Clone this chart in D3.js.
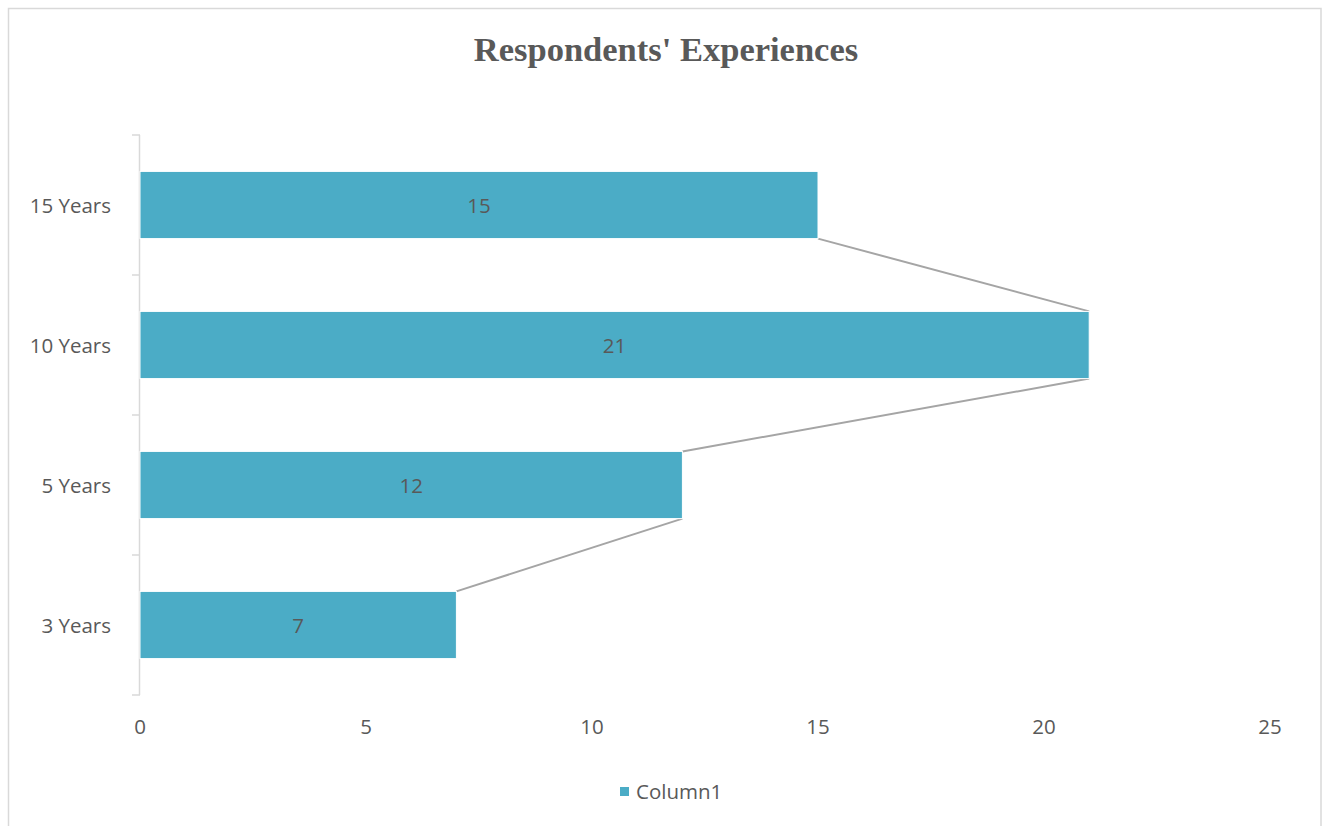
<!DOCTYPE html>
<html><head><meta charset="utf-8">
<script src="https://cdn.jsdelivr.net/npm/d3@7"></script>
<style>body{margin:0;background:#fff}svg{display:block}</style>
</head><body>
<svg id="c" width="1322" height="826"></svg>
<script>
const categories = ["15 Years", "10 Years", "5 Years", "3 Years"];
const values = [15, 21, 12, 7];
const xTicks = [0, 5, 10, 15, 20, 25];
const seriesName = "Column1";
const title = "Respondents' Experiences";

const svg = d3.select("#c");
const W = 1322, H = 826;
const plot = {left: 140, right: 1270, top: 135, bottom: 695};
const txt = "#595959", barColor = "#4BACC6";
const font = "Open Sans, Carlito, sans-serif", fs = 20.5;

svg.append("rect").attr("x", 8.5).attr("y", 8.5).attr("width", W - 9.5).attr("height", H)
  .attr("fill", "#fff").attr("stroke", "#d9d9d9").attr("stroke-width", 1.5);

svg.append("text").attr("x", 666).attr("y", 61).attr("text-anchor", "middle")
  .attr("font-family", "Liberation Serif, Times New Roman, serif").attr("font-weight", "bold")
  .attr("font-size", 34.5).attr("fill", txt).text(title);

const x = d3.scaleLinear().domain([0, 25]).range([plot.left, plot.right]);
const y = d3.scaleBand().domain(categories).range([plot.top, plot.bottom]).paddingInner(0.52).paddingOuter(0.26);
const yOuter = d3.scaleBand().domain(categories).range([plot.top, plot.bottom]);

// y axis line and ticks
const ax = svg.append("g").attr("stroke", "#d9d9d9").attr("stroke-width", 1.5).attr("fill", "none");
ax.append("line").attr("x1", plot.left - 0.5).attr("x2", plot.left - 0.5).attr("y1", plot.top).attr("y2", plot.bottom);
const tickYs = categories.map(c => yOuter(c)).concat([plot.bottom]);
tickYs.forEach(ty => ax.append("line").attr("x1", plot.left - 8).attr("x2", plot.left).attr("y1", ty).attr("y2", ty));

// y labels
svg.append("g").selectAll("text").data(categories).join("text")
  .attr("x", 111).attr("y", d => yOuter(d) + yOuter.bandwidth() / 2 + 1).attr("dy", "0.35em")
  .attr("text-anchor", "end").attr("font-family", font).attr("font-size", fs)
  .attr("fill", txt).text(d => d);

// x labels
svg.append("g").selectAll("text").data(xTicks).join("text")
  .attr("x", d => x(d)).attr("y", 727).attr("dy", "0.35em").attr("text-anchor", "middle")
  .attr("font-family", font).attr("font-size", fs)
  .attr("fill", txt).text(d => d);

// series lines
const pairs = d3.pairs(categories.map((c, i) => ({c, v: values[i]})));
svg.append("g").selectAll("line").data(pairs).join("line")
  .attr("x1", d => x(d[0].v)).attr("y1", d => y(d[0].c) + y.bandwidth())
  .attr("x2", d => x(d[1].v)).attr("y2", d => y(d[1].c))
  .attr("stroke", "#a5a5a5").attr("stroke-width", 2);

// bars
svg.append("g").selectAll("rect").data(categories).join("rect")
  .attr("x", x(0)).attr("y", d => y(d)).attr("width", (d, i) => x(values[i]) - x(0))
  .attr("height", y.bandwidth()).attr("fill", barColor).attr("stroke", "#fff").attr("stroke-width", 1);

// data labels
svg.append("g").selectAll("text").data(categories).join("text")
  .attr("x", (d, i) => (x(0) + x(values[i])) / 2).attr("y", d => y(d) + y.bandwidth() / 2 + 1).attr("dy", "0.35em")
  .attr("text-anchor", "middle").attr("font-family", font).attr("font-size", fs)
  .attr("fill", txt).text((d, i) => values[i]);

// legend
svg.append("rect").attr("x", 620).attr("y", 787).attr("width", 9).attr("height", 9).attr("fill", barColor);
svg.append("text").attr("x", 636).attr("y", 792).attr("dy", "0.35em").attr("font-family", font)
  .attr("font-size", fs).attr("fill", txt).text(seriesName);
</script>
</body></html>
